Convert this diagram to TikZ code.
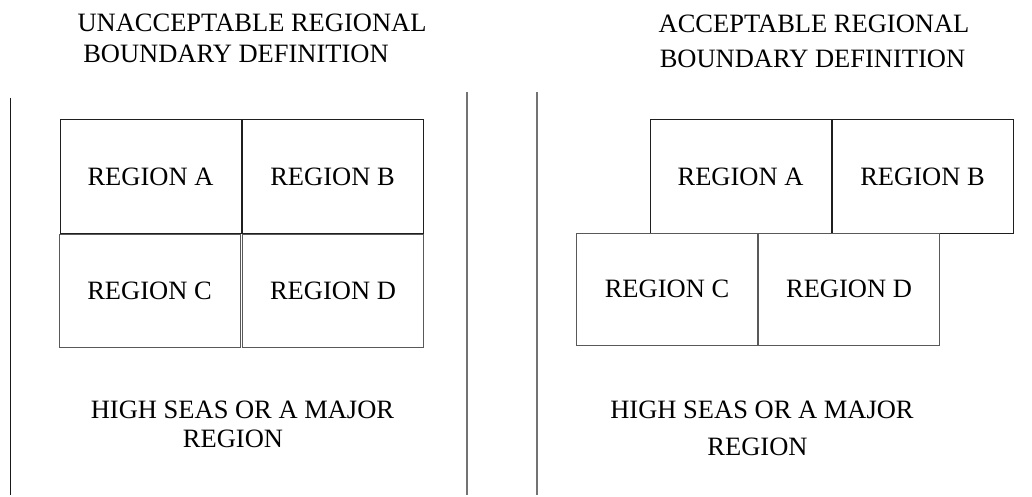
\documentclass[tikz,border=0pt]{standalone}
\usepackage{fontspec}
\setmainfont{Liberation Serif}
\begin{document}
\begin{tikzpicture}[x=1pt,y=-1pt,
  txt/.style={font=\fontsize{26.5}{30}\selectfont, inner sep=0pt, anchor=base},
  regbox/.style={draw, line width=1pt, inner sep=0pt, font=\fontsize{26.5}{30}\selectfont,
    minimum width=181pt, minimum height=113pt},
  topbox/.style={regbox, draw=black!88},
  lowbox/.style={regbox, draw=black!65},
  divider/.style={line width=1.2pt}]
\useasboundingbox (0,0) rectangle (1032,497);
% titles
\node[txt] (t1a) at (252,32) {UNACCEPTABLE REGIONAL};
\node[txt] (t1b) at (236,63) {BOUNDARY DEFINITION};
\node[txt] (t2a) at (814,33) {ACCEPTABLE REGIONAL};
\node[txt] (t2b) at (812.5,68) {BOUNDARY DEFINITION};
% dividing lines
\draw[divider, black!90] (10.5,98) -- (10.5,495);
\draw[divider, black!55] (467,92) -- (467,495);
\draw[divider, black!55] (537,92) -- (537,495);
% left panel boxes
\node[topbox] (la) at (150.5,176.5) {REGION A};
\node[topbox] (lb) at (332.5,176.5) {REGION B};
\node[lowbox] (lc) at (149.5,290.5) {REGION C};
\node[lowbox] (ld) at (333,290.5) {REGION D};
% right panel boxes
\node[topbox] (ra) at (740.5,176.5) {REGION A};
\node[topbox] (rb) at (922.5,176.5) {REGION B};
\node[lowbox, minimum height=112pt] (rc) at (667,289) {REGION C};
\node[lowbox, minimum height=112pt] (rd) at (849,289) {REGION D};
% bottom labels
\node[txt] (h1a) at (242.5,418) {HIGH SEAS OR A MAJOR};
\node[txt] (h1b) at (233,447) {REGION};
\node[txt] (h2a) at (762,418) {HIGH SEAS OR A MAJOR};
\node[txt] (h2b) at (757.5,455) {REGION};
\end{tikzpicture}
\end{document}
